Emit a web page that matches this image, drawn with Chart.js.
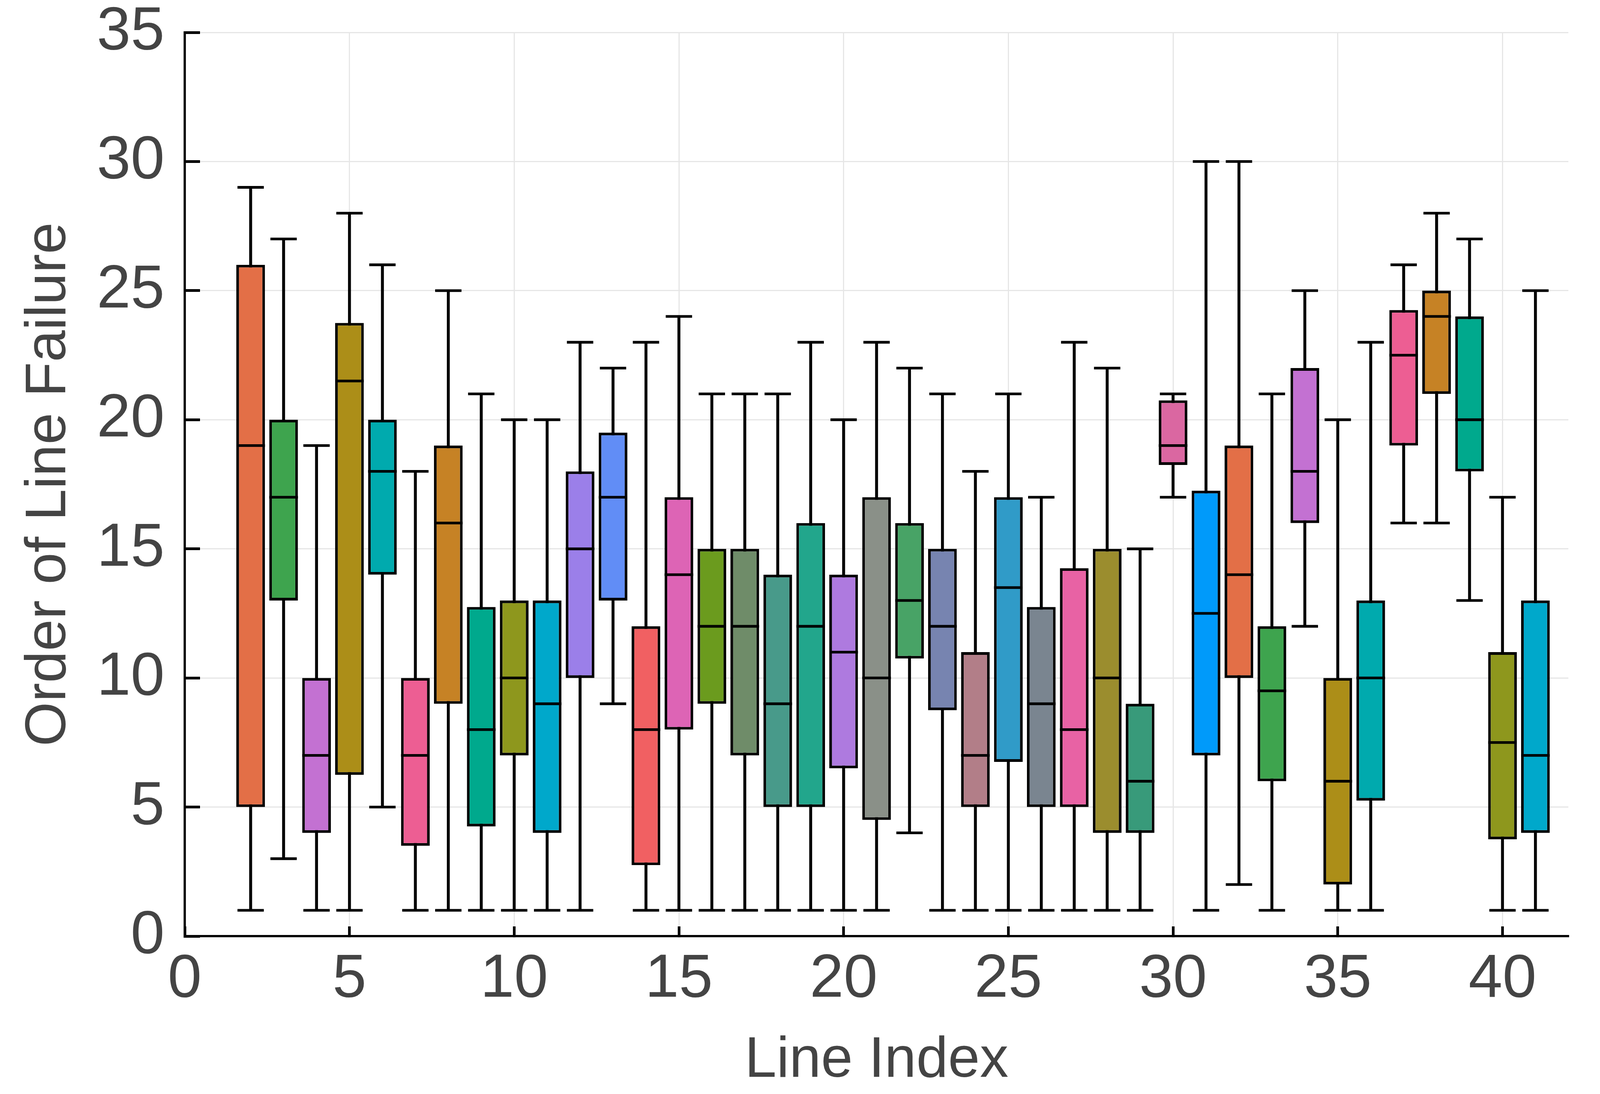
<!DOCTYPE html>
<html>
<head>
<meta charset="utf-8">
<script src="https://cdn.jsdelivr.net/npm/chart.js@4.4.1/dist/chart.umd.min.js"></script>
<style>
  html, body { margin: 0; padding: 0; background: #ffffff; overflow: hidden; }
  #c { position: absolute; left: 0; top: 0; display: block; background: #ffffff; }
</style>
</head>
<body>
<canvas id="c"></canvas>
<script>
// ---- data ----
const lineIndex   = [2,3,4,5,6,7,8,9,10,11,12,13,14,15,16,17,18,19,20,21,22,23,24,25,26,27,28,29,30,31,32,33,34,35,36,37,38,39,40,41];
const whiskerLow  = [1,3,1,1,5,1,1,1,1,1,1,9,1,1,1,1,1,1,1,1,4,1,1,1,1,1,1,1,17,1,2,1,12,1,1,16,16,13,1,1];
const quartile1   = [5,13,4,6.25,14,3.5,9,4.25,7,4,10,13,2.75,8,9,7,5,5,6.5,4.5,10.75,8.75,5,6.75,5,5,4,4,18.25,7,10,6,16,2,5.25,19,21,18,3.75,4];
const medianVal   = [19,17,7,21.5,18,7,16,8,10,9,15,17,8,14,12,12,9,12,11,10,13,12,7,13.5,9,8,10,6,19,12.5,14,9.5,18,6,10,22.5,24,20,7.5,7];
const quartile3   = [26,20,10,23.75,20,10,19,12.75,13,13,18,19.5,12,17,15,15,14,16,14,17,16,15,11,17,12.75,14.25,15,9,20.75,17.25,19,12,22,10,13,24.25,25,24,11,13];
const whiskerHigh = [29,27,19,28,26,18,25,21,20,20,23,22,23,24,21,21,21,23,20,23,22,21,18,21,17,23,22,15,21,30,30,21,25,20,23,26,28,27,17,25];

const xLabel = 'Line Index';
const yLabel = 'Order of Line Failure';

// ---- style ----
const palette = ['#009AFA','#E36F47','#3EA44E','#C371D2','#AC8E18','#00AAAE','#ED5E93','#C68225','#00A98D','#8E971D',
                 '#00A8CB','#9B7FE9','#618DF6','#F16062','#DD64B5','#6B9B1E','#6F8C69','#489A8A','#22A68C','#AE7ADF',
                 '#8A9088','#48A366','#7784B0','#B27E88','#309BC8','#7A8590','#E862A4','#9B8D2E','#389A7A','#DA67A1'];
const boxColors = lineIndex.map(x => palette[(x - 1) % palette.length]);
const textColor = '#444444';
const fontFamily = "'Liberation Sans', Arial, Helvetica, sans-serif";

// ---- size the canvas to the visible window (design size 4200 x 2800) ----
const W = window.innerWidth || 4200;
const H = window.innerHeight || 2800;
const sx = W / 4200, sy = H / 2800, sf = Math.min(sx, sy);
const canvas = document.getElementById('c');
canvas.width = W; canvas.height = H;
canvas.style.width = W + 'px'; canvas.style.height = H + 'px';

const tickFont = 160 * sf, titleFont = 150 * sf;
const lw = Math.max(1, 7 * sf), axisW = Math.max(1, 6 * sf), gridW = Math.max(1, 3 * sf);

const halfWidthPx = (units) => (ctx) => {
  const s = ctx.chart.scales.x;
  return Math.abs(s.getPixelForValue(units) - s.getPixelForValue(0));
};

new Chart(canvas, {
  type: 'bar',
  data: {
    datasets: [
      {
        type: 'bar', label: 'stem', order: 4, grouped: false,
        data: lineIndex.map((x, i) => ({ x: x, y: [whiskerLow[i], whiskerHigh[i]] })),
        backgroundColor: '#000000', borderWidth: 0, barThickness: lw
      },
      {
        type: 'line', label: 'capHigh', order: 3, showLine: false,
        data: lineIndex.map((x, i) => ({ x: x, y: whiskerHigh[i] })),
        pointStyle: 'line', pointRadius: halfWidthPx(0.4), pointBorderWidth: lw, pointBorderColor: '#000000',
        pointBackgroundColor: '#000000', pointHoverRadius: halfWidthPx(0.4)
      },
      {
        type: 'line', label: 'capLow', order: 3, showLine: false,
        data: lineIndex.map((x, i) => ({ x: x, y: whiskerLow[i] })),
        pointStyle: 'line', pointRadius: halfWidthPx(0.4), pointBorderWidth: lw, pointBorderColor: '#000000',
        pointBackgroundColor: '#000000', pointHoverRadius: halfWidthPx(0.4)
      },
      {
        type: 'bar', label: 'box', order: 2, grouped: false,
        data: lineIndex.map((x, i) => ({ x: x, y: [quartile1[i], quartile3[i]] })),
        backgroundColor: boxColors, borderColor: '#000000', borderWidth: lw, borderSkipped: false,
        barPercentage: 0.87, categoryPercentage: 1.0
      },
      {
        type: 'line', label: 'median', order: 1, showLine: false,
        data: lineIndex.map((x, i) => ({ x: x, y: medianVal[i] })),
        pointStyle: 'line', pointRadius: halfWidthPx(0.435), pointBorderWidth: lw, pointBorderColor: '#000000',
        pointBackgroundColor: '#000000', pointHoverRadius: halfWidthPx(0.435)
      }
    ]
  },
  options: {
    responsive: false,
    maintainAspectRatio: false,
    devicePixelRatio: 1,
    animation: false,
    events: [],
    layout: { padding: { top: 83 * sy, right: 83 * sx, left: 0, bottom: 0 } },
    plugins: { legend: { display: false }, tooltip: { enabled: false }, title: { display: false } },
    scales: {
      x: {
        type: 'linear', min: 0, max: 42, offset: false,
        ticks: { stepSize: 5, includeBounds: false, padding: 137 * sy - tickFont / 2, color: textColor,
                 font: { family: fontFamily, size: tickFont, lineHeight: 1 }, maxRotation: 0, autoSkip: false },
        grid: { offset: false, color: '#e6e6e6', lineWidth: gridW, drawTicks: true, tickLength: -25 * sy,
                tickColor: '#000000', tickWidth: lw },
        border: { display: true, color: '#000000', width: axisW },
        title: { display: true, text: xLabel, color: textColor,
                 font: { family: fontFamily, size: titleFont, lineHeight: 1 },
                 padding: { top: 0, bottom: 84 * sy - titleFont / 2 } },
        afterFit: (s) => { s.height = 404 * sy; s.paddingLeft = 0; s.paddingRight = 0; }
      },
      y: {
        type: 'linear', min: 0, max: 35,
        ticks: { stepSize: 5, padding: 93 * sx, color: textColor,
                 font: { family: fontFamily, size: tickFont, lineHeight: 1 } },
        grid: { color: '#e6e6e6', lineWidth: gridW, drawTicks: true, tickLength: -40 * sx,
                tickColor: '#000000', tickWidth: lw },
        border: { display: true, color: '#000000', width: axisW },
        title: { display: true, text: yLabel, color: textColor,
                 font: { family: fontFamily, size: titleFont, lineHeight: 1 },
                 padding: { top: 130 * sx - titleFont / 2, bottom: 0 } },
        afterFit: (s) => { s.width = 485 * sx; s.paddingTop = 0; s.paddingBottom = 0; }
      }
    }
  }
});
</script>
</body>
</html>
